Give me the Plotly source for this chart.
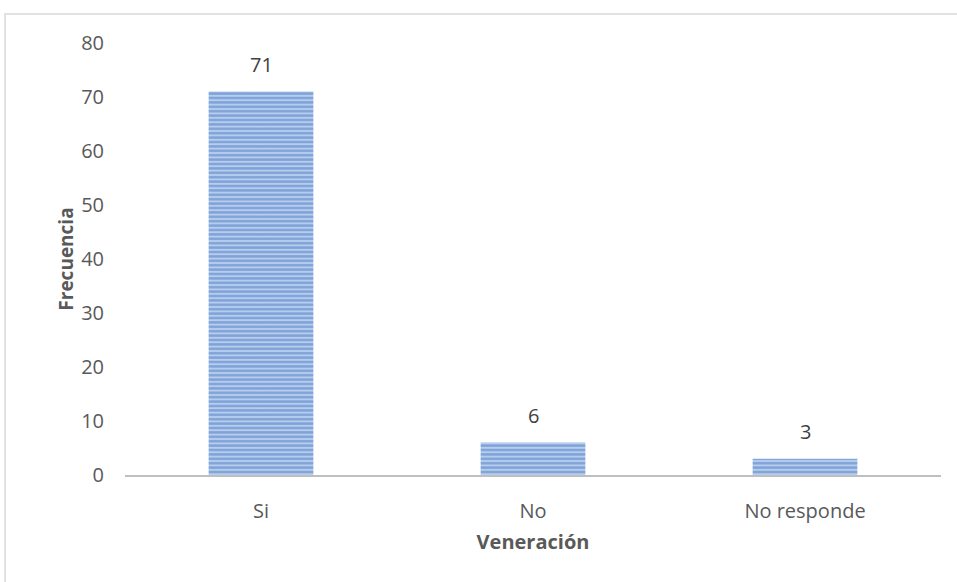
import plotly.graph_objects as go

categories = ["Si", "No", "No responde"]
frecuencia = [71, 6, 3]
y_ticks = [0, 10, 20, 30, 40, 50, 60, 70, 80]

font_family = "Open Sans, Liberation Sans, sans-serif"
gray = "#595959"

fig = go.Figure()
fig.add_trace(go.Bar(
    x=categories,
    y=frecuencia,
    width=0.385,
    marker=dict(
        color="#4f81c7",
        line=dict(width=0),
        pattern=dict(shape="-", fgcolor="#4677c2", bgcolor="#b7cdee", size=4.4, solidity=0.55),
    ),
    showlegend=False,
))

# value labels above the bars
for cat, val in zip(categories, frecuencia):
    fig.add_annotation(
        x=cat, y=val, text=str(val), showarrow=False, yanchor="bottom", yshift=12,
        font=dict(size=20, color="#404040", family=font_family),
    )

fig.update_layout(
    width=957, height=582,
    margin=dict(l=125, r=16, t=43, b=107),
    paper_bgcolor="white", plot_bgcolor="white",
    font=dict(family=font_family, color=gray, size=20),
    shapes=[dict(
        type="rect", xref="paper", yref="paper",
        x0=-0.147, x1=1.2, y0=-0.4, y1=1.067,
        line=dict(color="#d9d9d9", width=1.5), fillcolor="rgba(0,0,0,0)", layer="below",
    )],
)
fig.update_xaxes(
    showline=True, linecolor="#bfbfbf", linewidth=2,
    ticks="", tickfont=dict(size=20, color=gray), ticklabelstandoff=17,
    title=dict(text="<b>Veneración</b>", font=dict(size=20, color=gray), standoff=12),
)
fig.update_yaxes(
    range=[0, 80], tickvals=y_ticks, showgrid=False, zeroline=False,
    showline=False, ticks="", tickfont=dict(size=20, color=gray), ticklabelstandoff=20,
    title=dict(text="<b>Frecuencia</b>", font=dict(size=19, color=gray), standoff=2),
)

fig.write_html("out.html", post_script="document.body.style.margin='0';",
               config={"displayModeBar": False})
